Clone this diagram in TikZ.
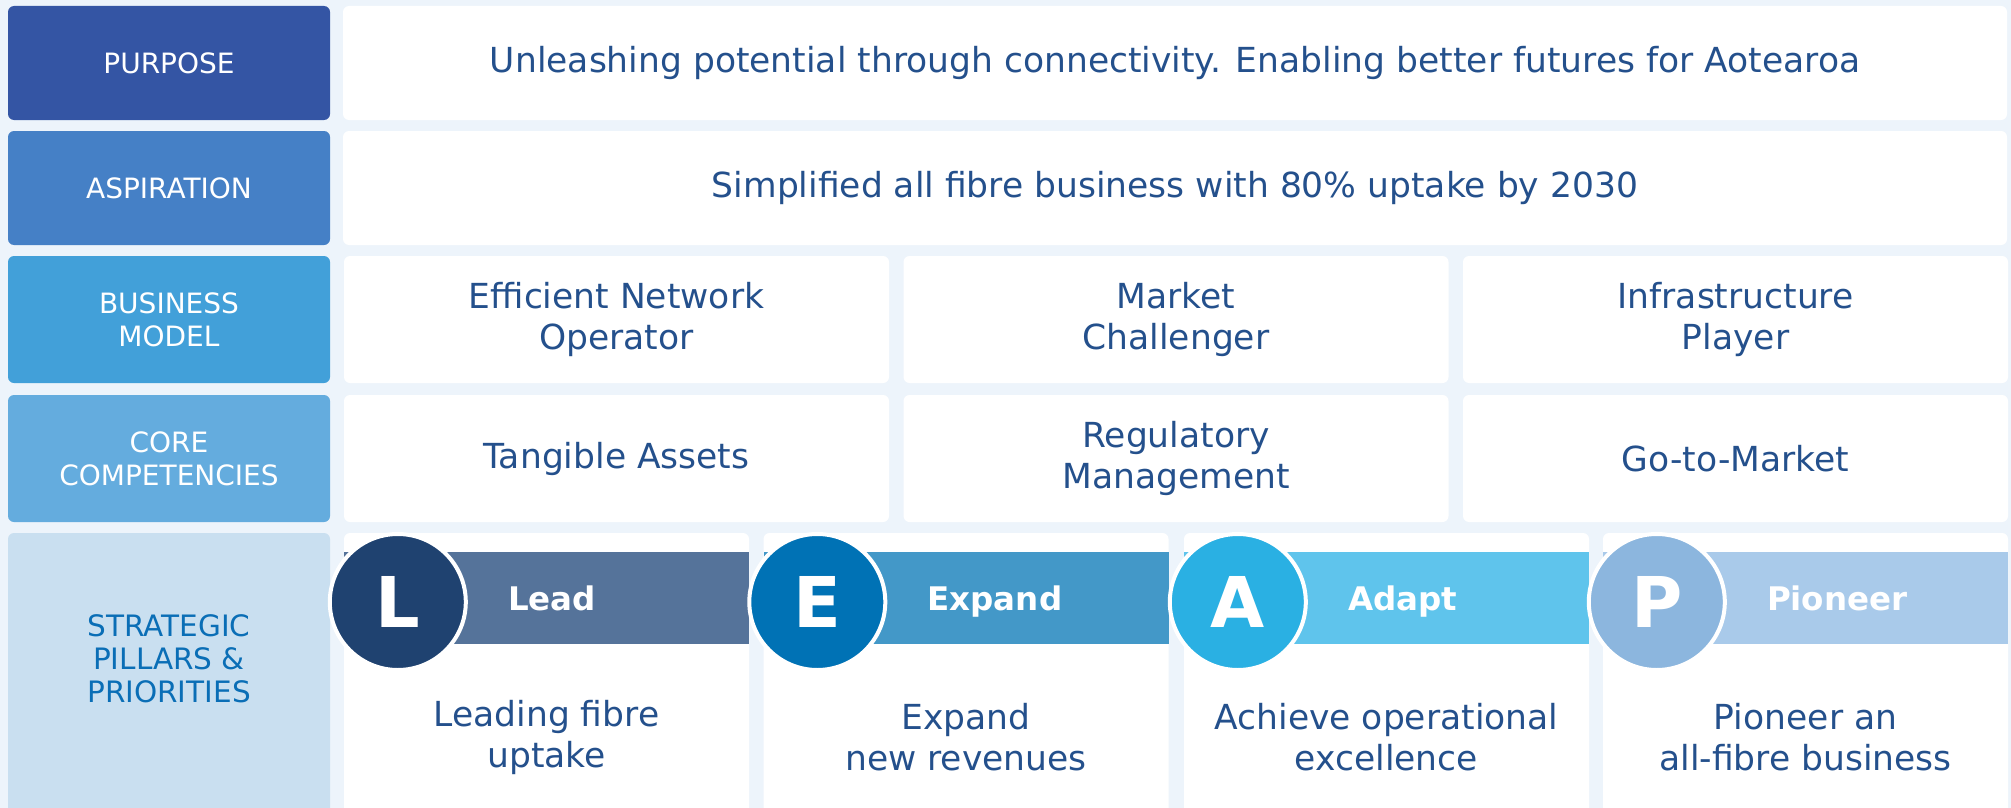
\documentclass[tikz,border=0pt]{standalone}
\usepackage{fontspec}
\setmainfont{DejaVu Sans}
\usetikzlibrary{positioning}
\definecolor{pagebg}{RGB}{237,244,251}
\definecolor{purposecol}{RGB}{52,85,164}
\definecolor{aspircol}{RGB}{69,128,198}
\definecolor{modelcol}{RGB}{66,160,217}
\definecolor{corecol}{RGB}{100,172,222}
\definecolor{pillarcol}{RGB}{201,223,240}
\definecolor{pillartext}{RGB}{10,110,182}
\definecolor{celltext}{RGB}{36,80,140}
\definecolor{leadcirc}{RGB}{31,66,112}
\definecolor{leadband}{RGB}{85,115,154}
\definecolor{expcirc}{RGB}{0,114,181}
\definecolor{expband}{RGB}{67,152,200}
\definecolor{adaptcirc}{RGB}{42,176,227}
\definecolor{adaptband}{RGB}{95,196,236}
\definecolor{pioncirc}{RGB}{140,182,222}
\definecolor{pionband}{RGB}{169,202,234}
\tikzset{
  rowlabel/.style={rounded corners=6pt, minimum width=322pt, text=white, align=center,
    font=\fontsize{28}{33}\selectfont},
  cellbox/.style={fill=white, rounded corners=6pt, text=celltext, align=center,
    font=\fontsize{34.5}{41}\selectfont},
  bandbox/.style={minimum height=92pt, inner sep=0pt},
  badge/.style={circle, draw=white, line width=4pt, minimum size=136pt, inner sep=0pt,
    text=white, font=\bfseries\fontsize{70}{70}\selectfont},
  bandtitle/.style={text=white, anchor=base west, inner sep=0pt, font=\bfseries\fontsize{32.5}{36}\selectfont},
}
\begin{document}
\begin{tikzpicture}[x=1pt,y=-1pt]
\useasboundingbox[fill=pagebg] (0,0) rectangle (2011,808);
\clip (0,0) rectangle (2011,808);
% left column
\node[rowlabel, fill=purposecol, minimum height=114pt] (purpose) at (169,63) {PURPOSE};
\node[rowlabel, fill=aspircol, minimum height=114pt] (aspiration) at (169,188) {ASPIRATION};
\node[rowlabel, fill=modelcol, minimum height=127pt] (model) at (169,319.5) {BUSINESS\\MODEL};
\node[rowlabel, fill=corecol, minimum height=127pt] (core) at (169,458.5) {CORE\\COMPETENCIES};
\node[rowlabel, fill=pillarcol, minimum height=297pt] (pillars) at (169,681.5) {};
\node[text=pillartext, align=center, font=\fontsize{29.5}{33}\selectfont] (pillarslbl) at (169,659) {STRATEGIC\\PILLARS \&\\PRIORITIES};
% purpose and aspiration rows
\node[cellbox, minimum width=1664pt, minimum height=114pt] (purposetxt) at (1175,63)
  {Unleashing potential through connectivity. Enabling better futures for Aotearoa};
\node[cellbox, minimum width=1664pt, minimum height=114pt] (aspirtxt) at (1175,188)
  {Simplified all fibre business with 80\% uptake by 2030};
% business model and competencies
\node[cellbox, minimum width=545pt, minimum height=127pt] (modelA) at (616.5,319.5) {Efficient Network\\Operator};
\node[cellbox, minimum width=545pt, minimum height=127pt] (modelB) at (1176,319.5) {Market\\Challenger};
\node[cellbox, minimum width=545pt, minimum height=127pt] (modelC) at (1735.5,319.5) {Infrastructure\\Player};
\node[cellbox, minimum width=545pt, minimum height=127pt] (coreA) at (616.5,458.5) {Tangible Assets};
\node[cellbox, minimum width=545pt, minimum height=127pt] (coreB) at (1176,458.5) {Regulatory\\Management};
\node[cellbox, minimum width=545pt, minimum height=127pt] (coreC) at (1735.5,458.5) {Go-to-Market};
% pillars
\foreach \cx/\ltr/\ttl/\goal/\cc/\bc in {%
  546.5/L/Lead/Leading fibre\\uptake/leadcirc/leadband,
  966/E/Expand/Expand\\new revenues/expcirc/expband,
  1386.5/A/Adapt/Achieve operational\\excellence/adaptcirc/adaptband,
  1805.5/P/Pioneer/Pioneer an\\all-fibre business/pioncirc/pionband}{
  \node[cellbox, minimum width=405pt, minimum height=297pt] (card\ltr) at (\cx,681.5) {};
  \node[bandbox, fill=\bc, minimum width=405pt] (band\ltr) at (\cx,598) {};
  \node[badge, fill=\cc] (badge\ltr) at ([xshift=54pt,yshift=-4pt]card\ltr.north west |- band\ltr) {\ltr};
  \node[bandtitle] (title\ltr) at ([xshift=164pt,yshift=-12pt]card\ltr.north west |- band\ltr) {\ttl};
  \node[cellbox, fill=none] (goal\ltr) at (\cx,737) {\goal};
}
\end{tikzpicture}
\end{document}
